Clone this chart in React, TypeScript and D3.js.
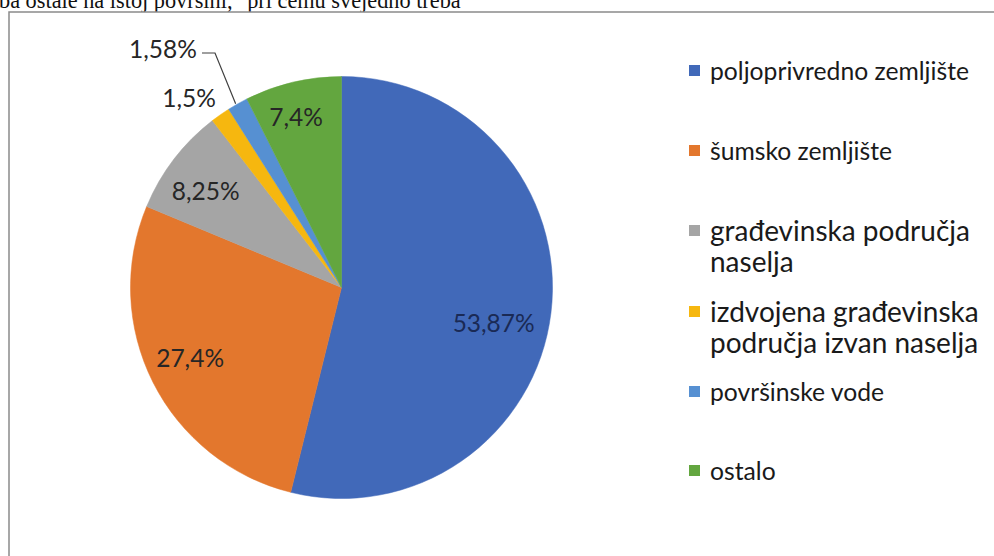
import React from "react";
import * as d3 from "d3";

const categories = [
  "poljoprivredno zemljište",
  "šumsko zemljište",
  "građevinska područja naselja",
  "izdvojena građevinska područja izvan naselja",
  "površinske vode",
  "ostalo",
];
const values = [53.87, 27.4, 8.25, 1.5, 1.58, 7.4];
const valueLabels = ["53,87%", "27,4%", "8,25%", "1,5%", "1,58%", "7,4%"];
const legendLines = [
  ["poljoprivredno zemljište"],
  ["šumsko zemljište"],
  ["građevinska područja", "naselja"],
  ["izdvojena građevinska", "područja izvan naselja"],
  ["površinske vode"],
  ["ostalo"],
];
const colors = ["#4169B9", "#E3772D", "#A5A5A5", "#F6B70F", "#5690D2", "#63A63F"];

// layout (not data)
const W = 994;
const H = 556;
const cx = 341.5;
const cy = 287.5;
const R = 211;
const labelRadius = [0.74, 0.79, 0.79, 0, 0, 0.84];
const labelAngleShift = [6, 2, -2, 0, 0, -1.5];
const outsideLabelPos: Record<number, [number, number]> = { 3: [189, 97], 4: [163, 48] };
const legendY = [70, 150, 230, 311, 391, 470];
const legendBig = [false, false, true, true, false, false];

export default function App() {
  const pie = d3
    .pie<number>()
    .sort(null)
    .value((d) => d);
  const arcs = pie(values);
  const arc = d3.arc<d3.PieArcDatum<number>>().innerRadius(0).outerRadius(R);

  const labelFont = "Lato, 'Open Sans', sans-serif";

  return (
    <svg
      width={W}
      height={H}
      style={{ position: "absolute", left: 0, top: 0, background: "#fff" }}
    >
      <text
        x={-1}
        y={8}
        fontFamily="'Liberation Serif', 'Times New Roman', serif"
        fontSize={22.3}
        fill="#111"
      >
        ba ostale na istoj površini, "pri čemu svejedno treba
      </text>
      <rect x={9} y={12} width={W} height={H} fill="#fff" stroke="#8a8a8a" strokeWidth={1.5} />
      <g transform={`translate(${cx},${cy})`}>
        {arcs.map((a, i) => (
          <path key={i} d={arc(a) || ""} fill={colors[i]} stroke={colors[i]} strokeWidth={0.5} />
        ))}
      </g>
      {arcs.map((a, i) => {
        if (outsideLabelPos[i]) return null;
        const mid = (a.startAngle + a.endAngle) / 2 + (labelAngleShift[i] * Math.PI) / 180;
        const r = R * labelRadius[i];
        const x = cx + r * Math.sin(mid);
        const y = cy - r * Math.cos(mid);
        return (
          <text
            key={i}
            x={x}
            y={y}
            textAnchor="middle"
            dominantBaseline="central"
            fontFamily={labelFont}
            fontSize={24.5}
            fill={i === 0 ? "#1a2a55" : "#262626"}
          >
            {valueLabels[i]}
          </text>
        );
      })}
      {Object.entries(outsideLabelPos).map(([k, p]) => {
        const i = +k;
        return (
          <text
            key={"o" + i}
            x={p[0]}
            y={p[1]}
            textAnchor="middle"
            dominantBaseline="central"
            fontFamily={labelFont}
            fontSize={24.5}
            fill="#262626"
          >
            {valueLabels[i]}
          </text>
        );
      })}
      {(() => {
        const a = arcs[4];
        const mid = (a.startAngle + a.endAngle) / 2;
        const ex = cx + R * Math.sin(mid);
        const ey = cy - R * Math.cos(mid);
        return (
          <polyline
            points={`202,53 215,53 ${ex - 2},${ey}`}
            fill="none"
            stroke="#404040"
            strokeWidth={1.2}
          />
        );
      })()}
      {categories.map((c, i) => (
        <g key={c}>
          <rect x={689} y={legendY[i] - 5} width={11} height={11} fill={colors[i]} />
          {legendLines[i].map((ln, j) => (
            <text
              key={j}
              x={710}
              y={legendY[i] + j * 31}
              dominantBaseline="central"
              fontFamily={labelFont}
              fontSize={legendBig[i] ? 28 : 24.7}
              fill="#1a1a1a"
            >
              {ln}
            </text>
          ))}
        </g>
      ))}
    </svg>
  );
}
